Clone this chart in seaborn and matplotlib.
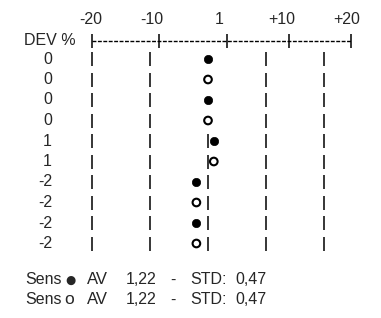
import matplotlib
matplotlib.use("Agg")
import matplotlib.pyplot as plt
import seaborn as sns
import pandas as pd

# ---- data ----
dev_values = [0, 0, 0, 0, 1, 1, -2, -2, -2, -2]
dev_labels = ["0", "0", "0", "0", "1", "1", "-2", "-2", "-2", "-2"]
sensor_kind = ["filled", "open", "filled", "open", "filled", "open",
               "filled", "open", "filled", "open"]
scale_labels = ["-20", "-10", "1", "+10", "+20"]
grid_values = [-20, -10, 0, 10, 20]
footer_sensor = ["\u25cf", "o"]
footer_av = ["1,22", "1,22"]
footer_std = ["0,47", "0,47"]

sns.set_theme(style="white")
plt.rcParams["font.family"] = ["Liberation Sans", "DejaVu Sans"]

W, H = 381, 318
fig = plt.figure(figsize=(W / 100, H / 100), dpi=100)
ax = fig.add_axes([0, 0, 1, 1])
ax.axis("off")

X0, K = 208.0, 5.8      # pixel of value 0, pixels per unit
Y0, DY = 59.0, 20.5     # pixel of first row, row spacing

def px2x(px):
    return (px - X0) / K

def px2y(py):
    return (py - Y0) / DY

ax.set_xlim(px2x(0), px2x(W))
ax.set_ylim(px2y(H), px2y(0))

rows = list(range(len(dev_values)))
df = pd.DataFrame({"row": rows, "dev": dev_values, "label": dev_labels, "kind": sensor_kind})

# vertical bars in each row (center bar hidden where the point sits on it)
bars = []
for r, v in zip(rows, dev_values):
    for g in grid_values:
        if g == 0 and v == 0:
            continue
        bars.append({"row": r, "g": g})
bars = pd.DataFrame(bars)
sns.scatterplot(data=bars, x="g", y="row", marker="|", s=105, color="black",
                linewidth=1.1, ax=ax, legend=False)

# points
filled = df[df.kind == "filled"]
opened = df[df.kind == "open"]
sns.scatterplot(data=filled, x="dev", y="row", marker="o", s=36, color="black",
                edgecolor="black", linewidth=0.5, ax=ax, legend=False)
sns.scatterplot(data=opened, x="dev", y="row", marker="o", s=30, facecolor="none",
                edgecolor="black", linewidth=1.5, ax=ax, legend=False)

FS = 11.5
# row labels
for r, lab in zip(rows, dev_labels):
    ax.text(px2x(52), r, lab, ha="right", va="center", fontsize=FS)

# header
ax.text(px2x(24), px2y(40.7), "DEV %", ha="left", va="center", fontsize=FS)
label_px = [90.5, 152, 219, 282, 347]
for lab, p in zip(scale_labels, label_px):
    ax.text(px2x(p), px2y(20), lab, ha="center", va="center", fontsize=FS)
hdr_bar_px = [92, 159, 227, 289, 351]
yh = px2y(40.7)
ax.plot([px2x(hdr_bar_px[0]), px2x(hdr_bar_px[-1])], [yh, yh], color="black",
        lw=1.0, linestyle=(0, (2.8, 1.1)))
ax.scatter([px2x(p) for p in hdr_bar_px], [yh] * len(hdr_bar_px), marker="|",
           s=95, color="black", linewidths=1.1)

# footer
for i, (sym, av, sd) in enumerate(zip(footer_sensor, footer_av, footer_std)):
    yy = px2y(280 + 20 * i)
    ax.text(px2x(25), yy, "Sens", ha="left", va="center", fontsize=FS)
    if sym == "o":
        ax.text(px2x(64), yy, sym, ha="left", va="center", fontsize=FS + 1)
    else:
        ax.text(px2x(65), yy, sym, ha="left", va="center", fontsize=8.5,
                family=["DejaVu Sans"])
    ax.text(px2x(87), yy, "AV", ha="left", va="center", fontsize=FS + 0.5)
    ax.text(px2x(126), yy, av, ha="left", va="center", fontsize=FS)
    ax.text(px2x(173), yy, "-", ha="center", va="center", fontsize=FS)
    ax.text(px2x(190), yy, "STD:", ha="left", va="center", fontsize=FS)
    ax.text(px2x(235), yy, sd, ha="left", va="center", fontsize=FS)

fig.savefig("out.png", dpi=100, facecolor="white")
